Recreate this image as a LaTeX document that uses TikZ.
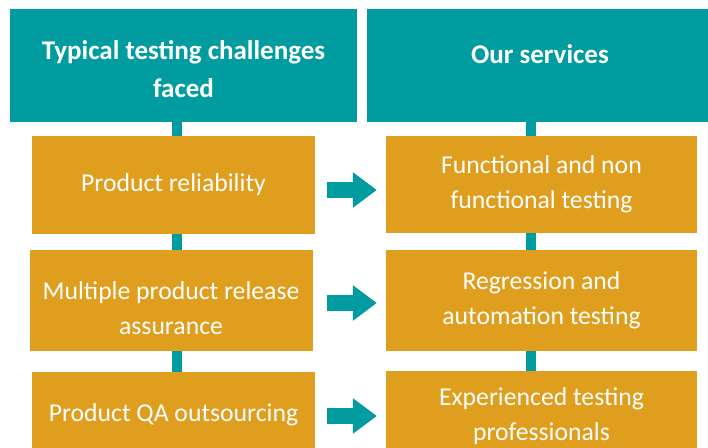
\documentclass[tikz,border=0pt]{standalone}
\usepackage{fontspec}
\setmainfont{Carlito}
\usetikzlibrary{arrows.meta,positioning}
\definecolor{tealbar}{RGB}{0,156,160}
\definecolor{amberbox}{RGB}{224,158,30}
\tikzset{%
  % Specifications for style of nodes:
            base/.style = {rectangle, inner sep=0pt},
          header/.style = {base, fill=tealbar, minimum width=347pt, minimum height=113pt},
       challenge/.style = {base, fill=amberbox, minimum width=283pt, minimum height=99pt},
         service/.style = {challenge, minimum width=311pt},
  % texts sit in labels, so they can be nudged inside their box
        bodytext/.style = {text=white, align=center, font=\fontsize{25.7}{35}\selectfont},
        headtext/.style = {bodytext, font=\fontsize{27}{38}\selectfont\bfseries},
  % connectors
stub/.style={
           draw=tealbar,
           line width=10pt},
pil/.style={
           -{Triangle[width=34pt,length=24pt]},
           draw=tealbar,
           line width=16pt,
           shorten <=12pt,
           shorten >=9pt,}
}

\begin{document}
\begin{tikzpicture}[x=1pt, y=-1pt]
\useasboundingbox (0,0) rectangle (708,447);

\node (h1) [header, label={[headtext, yshift=-4pt]center:Typical testing challenges\\faced}] at (183.5,65.5) {};
\node (h2) [header, minimum width=346pt, label={[headtext, yshift=11pt]center:Our services}] at (540,65.5) {};

\node (c1) [challenge, minimum height=98pt, label={[bodytext]center:Product reliability}] at (173.5,185) {};
\node (c2) [challenge, minimum height=101pt, label={[bodytext, yshift=-8pt]center:Multiple product release\\assurance}] at (171,300.5) {};
\node (c3) [challenge, minimum height=100pt, label={[bodytext, yshift=7pt]center:Product QA outsourcing}] at (173.5,422) {};

\node (s1) [service, minimum height=97pt, label={[bodytext]center:Functional and non\\functional testing}] at (541.5,184.5) {};
\node (s2) [service, minimum height=101pt, label={[bodytext]center:Regression and\\automation testing}] at (541.5,300.5) {};
\node (s3) [service, minimum height=100pt, label={[bodytext, yshift=4.5pt]center:Experienced testing\\professionals}] at (541.5,421) {};

\coordinate (lstub) at (177,0);
\coordinate (rstub) at (531,0);

\draw[stub] (h1.south -| lstub) -- (c1.north -| lstub);
\draw[stub] (c1.south -| lstub) -- (c2.north -| lstub);
\draw[stub] (c2.south -| lstub) -- (c3.north -| lstub);
\draw[stub] (h2.south -| rstub) -- (s1.north -| rstub);
\draw[stub] (s1.south -| rstub) -- (s2.north -| rstub);
\draw[stub] (s2.south -| rstub) -- (s3.north -| rstub);

\draw[pil] ([yshift=-5pt]c1.east) -- ([yshift=-5pt]c1.east -| s1.west);
\draw[pil, shorten <=14pt] ([yshift=-2.5pt]c2.east) -- ([yshift=-2.5pt]c2.east -| s2.west);
\draw[pil] ([yshift=6pt]c3.east) -- ([yshift=6pt]c3.east -| s3.west);

\end{tikzpicture}
\end{document}
